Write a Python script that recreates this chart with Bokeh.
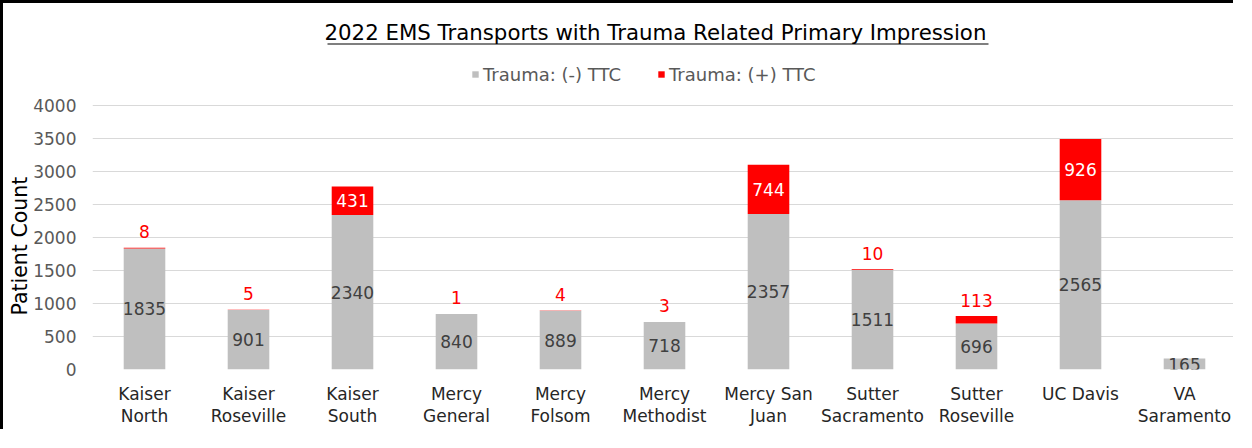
from bokeh.plotting import figure
from bokeh.models import (ColumnDataSource, FixedTicker, Range1d, BoxAnnotation, Legend,
                          LegendItem, Title)
from bokeh.embed import file_html
from bokeh.resources import INLINE
from bokeh.core.properties import value

# ---- data ----
categories = ["Kaiser North", "Kaiser Roseville", "Kaiser South", "Mercy General",
              "Mercy Folsom", "Mercy Methodist", "Mercy San Juan", "Sutter Sacramento",
              "Sutter Roseville", "UC Davis", "VA Saramento"]
tick_labels = ["Kaiser\nNorth", "Kaiser\nRoseville", "Kaiser\nSouth", "Mercy\nGeneral",
               "Mercy\nFolsom", "Mercy\nMethodist", "Mercy San\nJuan", "Sutter\nSacramento",
               "Sutter\nRoseville", "UC Davis", "VA\nSaramento"]
trauma_neg = [1835, 901, 2340, 840, 889, 718, 2357, 1511, 696, 2565, 165]
trauma_pos = [8, 5, 431, 1, 4, 3, 744, 10, 113, 926, 0]
series_names = ["Trauma: (-) TTC", "Trauma: (+) TTC"]
y_ticks = [0, 500, 1000, 1500, 2000, 2500, 3000, 3500, 4000]
title_text = "2022 EMS Transports with Trauma Related Primary Impression"
y_title = "Patient Count"

FONT = "DejaVu Sans"
GRAY = "#BFBFBF"
RED = "#FF0000"

# layout (pixels)
W, H = 1233, 429
ML, MR, MT, MB = 89, 0, 36, 63
frame_h = H - MT - MB            # 330
# the axis maximum (4000) lies 264px above the baseline; room above holds the legend
y_end = y_ticks[-1] * frame_h / 264

src = ColumnDataSource(dict(cat=tick_labels, neg=trauma_neg, pos=trauma_pos))

p = figure(x_range=tick_labels, y_range=Range1d(0, y_end), width=W, height=H,
           output_backend="svg", toolbar_location=None,
           min_border_left=ML, min_border_right=MR, min_border_top=MT, min_border_bottom=MB)
p.styles = {"border-top": "3px solid black", "border-left": "3px solid black"}
p.outline_line_color = None
p.background_fill_color = "white"
p.border_fill_color = "white"

renderers = p.vbar_stack(["neg", "pos"], x="cat", width=0.4, color=[GRAY, RED],
                         line_color=None, source=src)

# title
p.title.text = title_text
p.title.text_font = FONT
p.title.text_font_size = "21.3px"
p.title.text_font_style = "normal"
p.title.text_color = "#000000"
p.title.align = "left"
p.title.offset = 232
p.title.standoff = -10

# underline for the title (canvas pixel units)
p.add_layout(BoxAnnotation(left=321, right=982, top=37, bottom=38,
                           left_units="canvas", right_units="canvas",
                           top_units="canvas", bottom_units="canvas",
                           fill_color="#000000", fill_alpha=1, line_color=None))

# legend
legend = Legend(items=[LegendItem(label=series_names[0], renderers=[renderers[0]]),
                       LegendItem(label=series_names[1], renderers=[renderers[1]])],
                orientation="horizontal", location=(379, 284))
legend.glyph_width = 8
legend.glyph_height = 8
legend.label_standoff = 4
legend.spacing = 36
legend.padding = 0
legend.margin = 0
legend.label_text_font = FONT
legend.label_text_font_size = "18px"
legend.label_text_color = "#595959"
legend.label_height = 22
legend.background_fill_alpha = 0
legend.border_line_color = None
p.add_layout(legend, "center")

# y axis
p.yaxis.ticker = FixedTicker(ticks=y_ticks)
p.yaxis.axis_line_color = None
p.yaxis.major_tick_line_color = None
p.yaxis.minor_tick_line_color = None
p.yaxis.major_tick_out = 0
p.yaxis.major_tick_in = 0
p.yaxis.major_label_text_font = FONT
p.yaxis.major_label_text_font_size = "17px"
p.yaxis.major_label_text_color = "#595959"
p.yaxis.major_label_standoff = 16

# y axis title, placed along the 0-4000 part of the axis
p.add_layout(Title(text=y_title, align="left", offset=54, standoff=-2,
                   text_font=FONT, text_font_size="20.5px", text_font_style="normal",
                   text_color="#000000"), "left")

# x axis (two-line category labels)
p.xaxis.axis_line_color = None
p.xaxis.major_tick_line_color = None
p.xaxis.minor_tick_line_color = None
p.xaxis.major_tick_out = 0
p.xaxis.major_tick_in = 0
p.xaxis.major_label_text_font = FONT
p.xaxis.major_label_text_font_size = "17px"
p.xaxis.major_label_text_color = "#262626"
p.xaxis.major_label_text_line_height = 1.11
p.xaxis.major_label_standoff = 14

p.xgrid.grid_line_color = None
p.ygrid.ticker = FixedTicker(ticks=y_ticks)
p.ygrid.grid_line_color = "#D9D9D9"
p.ygrid.grid_line_width = 1

# data labels: gray segment (centered)
neg_src = ColumnDataSource(dict(cat=tick_labels, y=[v / 2 for v in trauma_neg],
                                txt=[str(v) for v in trauma_neg]))
p.text(x="cat", y="y", text="txt", source=neg_src, text_align="center",
       text_baseline="middle", text_font=value(FONT), text_font_size="17px",
       text_color="#404040")

# red segment labels: inside (white) when large, above (red) when small
in_c, in_y, in_t, out_c, out_y, out_t = [], [], [], [], [], []
for c, n, v in zip(tick_labels, trauma_neg, trauma_pos):
    if v == 0:
        continue
    if v >= 300:
        in_c.append(c); in_y.append(n + v / 2); in_t.append(str(v))
    else:
        out_c.append(c); out_y.append(n + v); out_t.append(str(v))
p.text(x=in_c, y=in_y, text=in_t, text_align="center", text_baseline="middle",
       text_font=value(FONT), text_font_size="17px", text_color="#FFFFFF")
p.text(x=out_c, y=out_y, text=out_t, text_align="center", text_baseline="middle",
       y_offset=-16, text_font=value(FONT), text_font_size="17px", text_color=RED)

open("out.html", "w").write(file_html(p, INLINE))
